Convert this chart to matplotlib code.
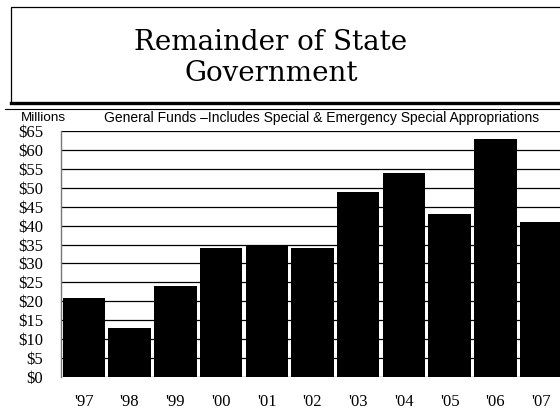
import numpy as np
import matplotlib
matplotlib.use("Agg")
import matplotlib.pyplot as plt
from matplotlib.patches import Rectangle
from matplotlib.lines import Line2D

# data (millions of dollars)
years = ["'97", "'98", "'99", "'00", "'01", "'02", "'03", "'04", "'05", "'06", "'07"]
funds = [21, 13, 24, 34, 35, 34, 49, 54, 43, 63, 41]
y_ticks = list(range(0, 70, 5))

W, H = 560, 411
fig = plt.figure(figsize=(W / 100, H / 100), dpi=100)

def fx(px):
    return px / W

def fy(py):
    return 1 - py / H

# title box with heavier bottom rule (open on the right edge)
fig.add_artist(Rectangle((fx(11), fy(103)), fx(570), fy(7) - fy(103),
                         transform=fig.transFigure, fill=False,
                         edgecolor='black', lw=0.9))
fig.add_artist(Line2D([fx(11), 1], [fy(103), fy(103)], transform=fig.transFigure,
                      color='black', lw=2.4))
fig.add_artist(Line2D([fx(5), 1], [fy(109.3), fy(109.3)], transform=fig.transFigure,
                      color='black', lw=0.8))

fig.text(fx(271), fy(58), "Remainder of State\nGovernment", ha='center', va='center',
         family='DejaVu Serif', fontsize=20, linespacing=1.15)

fig.text(fx(21), fy(118), "Millions", ha='left', va='center',
         family='Liberation Sans', fontsize=9.7)
fig.text(fx(322), fy(118),
         "General Funds \u2013Includes Special & Emergency Special Appropriations",
         ha='center', va='center', family='Liberation Sans', fontsize=10)

# plot area (runs slightly past the right edge like the original)
ax = fig.add_axes([fx(61), fy(377), fx(564) - fx(61), fy(131) - fy(377)])
x = np.arange(len(years))
ax.set_axisbelow(True)
ax.yaxis.grid(True, color='black', lw=0.9)
ax.bar(x, funds, width=0.93, color='black', edgecolor='none', zorder=3)

ax.set_xlim(-0.5, len(years) - 0.5)
ax.set_ylim(0, 65)
ax.set_yticks(y_ticks)
ax.set_yticklabels(['$%d' % v for v in y_ticks], family='Liberation Serif', fontsize=12)
ax.set_xticks(x)
ax.set_xticklabels(years, family='Liberation Serif', fontsize=12)
ax.tick_params(axis='y', length=0, pad=13)
ax.tick_params(axis='x', length=0, pad=12.5)
for side in ['top', 'right', 'bottom']:
    ax.spines[side].set_visible(False)
ax.spines['left'].set_color('#777777')
ax.spines['left'].set_linewidth(1.0)

fig.savefig("out.png", dpi=100)
